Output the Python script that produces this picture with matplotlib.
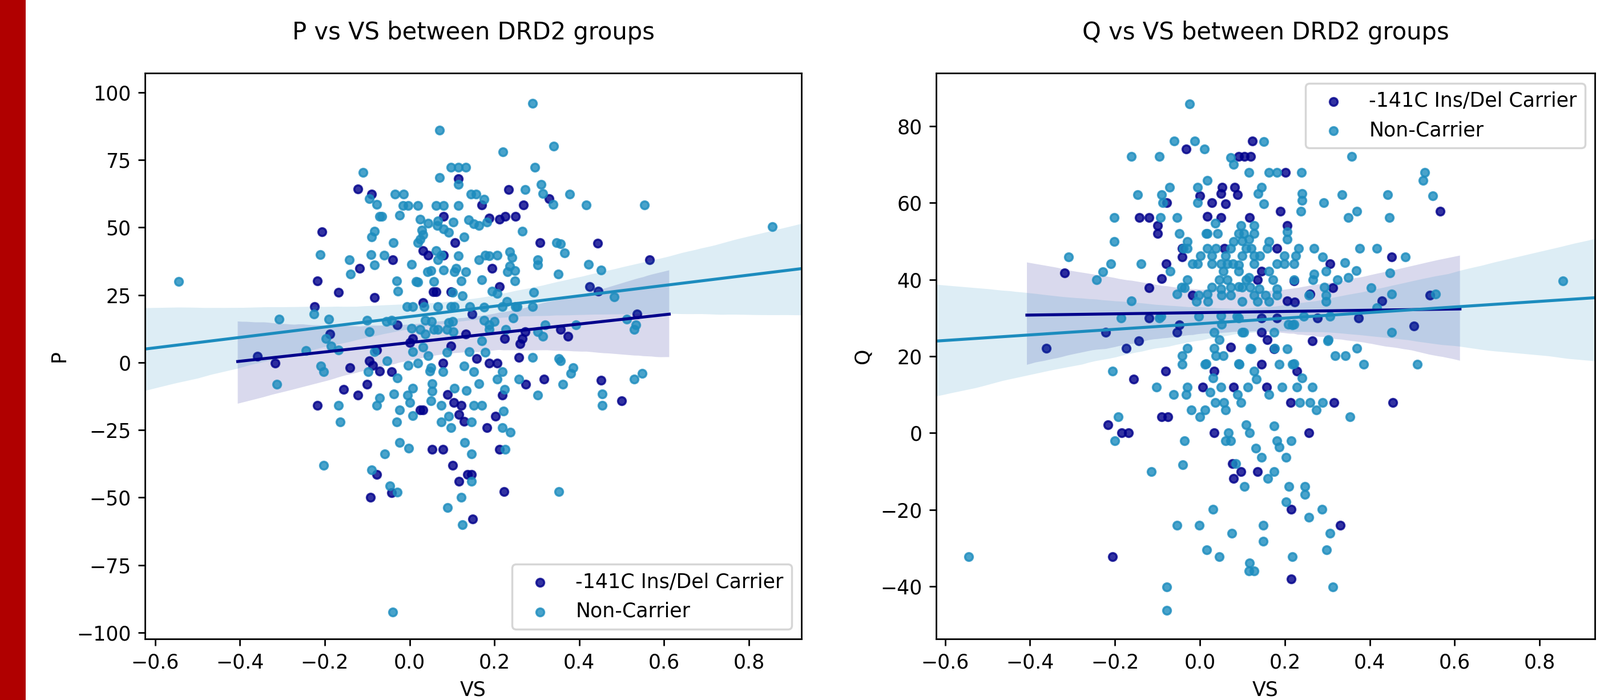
import numpy as np
import matplotlib
matplotlib.use("Agg")
import matplotlib.pyplot as plt
from matplotlib.patches import Rectangle
import seaborn as sns

# (VS, P) pairs
P_CARRIER = [
    (0.115, 68), (-0.122, 64.2), (0.233, 64), (-0.089, 62.3), (0.329, 60.7), (0.269, 58.2),
    (0.17, 58.2), (0.08, 54), (0.188, 53.5), (0.212, 53), (0.225, 54), (0.25, 54),
    (-0.207, 48.3), (0.107, 44.4), (0.308, 44.4), (0.443, 44.2), (-0.04, 38.1), (0.031, 41.4),
    (0.044, 39.8), (0.08, 39.8), (0.566, 38.1), (-0.118, 34.8), (0.194, 34.8), (-0.218, 30.2),
    (-0.167, 26), (-0.083, 24.1), (0.056, 26.2), (0.062, 26.2), (0.097, 26.2), (0.212, 28.1),
    (0.425, 28.1), (0.445, 26.4), (-0.224, 20.6), (0.031, 22.2), (0.147, 18), (0.536, 18),
    (-0.029, 13.9), (0.356, 12.2), (0.374, 9.7), (-0.188, 10.5), (0.133, 10.5), (0.272, 11.4),
    (-0.359, 2.2), (-0.077, 4.7), (0.007, 8.9), (0.224, 8.9), (0.266, 8.9),
    (0.0, 7.4), (0.098, 6.2), (0.26, 7), (0.258, 1.9), (-0.317, -0.2), (-0.095, 0.7),
    (0.079, -0.2), (0.158, 1.5), (0.188, -0.2), (0.206, -0.2), (-0.141, -1.9), (-0.087, -1),
    (-0.071, -3.1), (-0.043, -3.5), (0.452, -6.5), (0.5, -14.1), (-0.1, -8), (-0.156, -9.9),
    (-0.122, -12), (0.274, -8), (0.317, -6.1), (0.218, -12), (0.089, -11.8), (-0.218, -15.8),
    (0.025, -17.5), (0.031, -17.5), (0.104, -14.9), (0.122, -15.8), (0.116, -19.2), (0.128, -21.7),
    (0.202, -20), (0.182, -24.2), (0.053, -32.1), (0.079, -32.1), (0.212, -32.1), (0.101, -38),
    (-0.077, -41.5), (0.137, -41.5), (0.146, -41.5), (0.116, -44), (-0.043, -48.3), (-0.092, -50),
    (0.223, -47.8), (0.149, -58),
]
P_NONCARRIER = [
    (-0.545, 30), (0.29, 96), (0.07, 86), (0.34, 80), (0.22, 78), (0.296, 72.2), (-0.11, 70.3),
    (0.097, 72.2), (0.115, 72.2), (0.133, 72.2), (0.071, 68.4), (0.115, 66), (0.31, 66),
    (-0.095, 60.7), (-0.035, 62.3), (-0.014, 62.3), (0.145, 62.3), (0.157, 62.3), (0.272, 64),
    (0.314, 62.5), (0.377, 62.2), (0.338, 58.6), (0.416, 58.2), (0.554, 58.2), (0.176, 60.3),
    (-0.077, 58.6), (-0.016, 58), (-0.004, 58), (0.02, 58), (0.062, 58), (0.08, 58), (0.115, 58),
    (-0.071, 54), (-0.065, 54), (-0.023, 54.4), (0.025, 53.1), (0.139, 52.7), (0.103, 51.9),
    (0.067, 52.3), (-0.083, 48.6), (-0.089, 46.5), (0.029, 49), (0.031, 47.3), (0.025, 45.6),
    (0.065, 50.6), (0.08, 49.4), (0.092, 48.1), (0.164, 50.6), (0.182, 51.9), (0.128, 46.5),
    (0.266, 48.6), (0.019, 44.4), (-0.038, 44.4), (0.346, 44.4), (0.356, 44), (-0.211, 40),
    (-0.091, 40), (-0.142, 38.1), (0.062, 41.4), (0.067, 38), (0.115, 39.4), (0.164, 38.1),
    (0.188, 39.4), (0.206, 39.8), (0.236, 41), (0.242, 38.9), (0.236, 35.6), (0.248, 33.9),
    (0.302, 38.1), (0.302, 36), (0.366, 40.6), (0.422, 36.4), (0.452, 34.3), (-0.139, 32.7),
    (-0.083, 36), (0.005, 36.4), (0.05, 33.9), (0.08, 34.3), (0.11, 34.8), (0.35, 32.7),
    (-0.031, 30.2), (0.019, 29.7), (0.122, 30.2), (0.17, 30.6), (0.248, 30.2), (-0.027, 26.4),
    (0.194, 26.4), (0.293, 26), (0.482, 24.3), (0.125, 24.7), (0.206, 25.6), (0.23, 22.6),
    (0.254, 20.6), (0.29, 20.6), (-0.226, 18), (-0.006, 20.6), (0.007, 20.6), (0.067, 20.6),
    (0.097, 20.6), (0.176, 20.4), (0.218, 20.6), (-0.307, 16), (-0.191, 16), (0.512, 16),
    (0.534, 13.9), (-0.101, 15.5), (-0.043, 15.5), (0.005, 12.6), (0.037, 15.5), (0.067, 12.2),
    (0.092, 14.7), (0.176, 15.5), (0.188, 13.9), (0.244, 16.4), (0.319, 13.9), (0.392, 13.9),
    (0.53, 12.2), (-0.197, 8.9), (-0.095, 11.4), (0.037, 10.5), (0.103, 11.4), (0.188, 12.2),
    (0.314, 9.7), (0.302, 11.4), (-0.245, 4.3), (-0.167, 4.7), (0.17, 8), (0.855, 50.2),
    (-0.083, 4), (-0.185, 6.2), (0.007, 4), (0.031, 5.7), (0.044, 2.4), (0.14, 4), (0.352, 1.5),
    (0.29, 1.9), (-0.053, 0.7), (-0.004, -1), (0.019, -0.2), (-0.209, -1.4), (-0.203, -3.5),
    (-0.097, -3.5), (-0.029, -5.7), (0.05, -1.9), (0.079, -3.5), (0.128, -1.4), (0.152, -3.5),
    (0.218, -3.5), (0.356, 0.7), (0.386, -1.9), (0.38, -4), (0.548, -4), (0.53, -6.1),
    (-0.313, -8), (0.454, -11.6), (0.454, -15.8), (0.258, -6.1), (0.362, -8), (0.302, -12),
    (0.224, -9.9), (0.206, -6.1), (0.164, -7.8), (0.134, -10.3), (0.053, -7.8), (0.053, -10.7),
    (0.007, -9.5), (-0.005, -12), (-0.071, -13.2), (-0.037, -11.6), (-0.167, -15.8),
    (-0.163, -22.1), (-0.077, -15.8), (-0.023, -17.5), (0.001, -14.9), (0.05, -14.1),
    (0.074, -15.8), (0.152, -15.8), (0.17, -15.8), (0.221, -17.9), (0.074, -22.1), (0.092, -20),
    (0.098, -24.2), (0.146, -22.1), (-0.031, -22.1), (0.218, -24.2), (0.238, -25.9),
    (-0.023, -29.7), (-0.002, -31.8), (0.13, -29.7), (0.146, -33.9), (0.226, -32.1),
    (-0.059, -33.9), (-0.203, -38), (-0.089, -39.8), (0.146, -44), (-0.047, -45.7),
    (-0.029, -48.1), (0.352, -47.8), (0.122, -50), (0.089, -53.7), (0.125, -60.1), (-0.04, -92.3),
    # dense centre of the cloud
    (0.044, 51.5), (0.151, 51.3), (-0.06, 39.8), (0.075, 39.8), (0.178, 39.8), (0.043, 33.5),
    (0.106, 33.5), (0.133, 33.5), (0.231, 33.5), (0.016, 29.9), (0.057, 29.9), (0.101, 26),
    (0.034, 20.6), (0.106, 20.6), (0.142, 20.6), (0.25, 20.6), (-0.055, 15.2), (0.052, 15.2),
    (0.101, 15.2), (0.2, 15.2), (0.025, 12.3), (0.057, 12.3), (0.088, 12.3), (0.227, 12.3),
    (0.088, 3.8), (0.178, 3.8), (0.048, -3.1), (0.106, -9.5), (0.008, -19.6),
]

# (VS, Q) pairs
Q_CARRIER = [
    (-0.033, 74), (0.124, 76.2), (0.091, 72.1), (0.105, 72.1), (0.12, 72.1), (0.201, 67.9),
    (0.052, 64.1), (0.082, 64.1), (0.0, 61.8), (0.049, 62.4), (0.088, 62.1), (-0.078, 60),
    (0.028, 60), (0.061, 59.7), (0.566, 57.8), (-0.142, 56.2), (-0.12, 56.2), (0.018, 56.5),
    (0.049, 56.2), (0.117, 56.2), (0.19, 57.9), (0.205, 54.1), (-0.099, 54.1), (-0.1, 52.1),
    (-0.042, 48.2), (0.058, 48.2), (0.181, 48.2), (-0.042, 45.9), (0.451, 45.9), (-0.318, 41.8),
    (-0.08, 44.1), (0.307, 44.1), (-0.09, 40.3), (0.135, 40), (0.221, 39.7), (-0.12, 37.9),
    (0.313, 37.9), (-0.018, 35.9), (0.259, 36.2), (0.542, 35.9), (0.205, 34.4), (0.223, 34.1),
    (0.428, 34.4), (-0.12, 30), (0.145, 30), (0.181, 30), (0.277, 30), (0.374, 30),
    (-0.048, 28.2), (0.504, 27.9), (-0.222, 26.2), (-0.054, 26.2), (0.145, 26.2), (-0.144, 24.1),
    (0.265, 24.1), (0.073, 22.4), (-0.174, 22.1), (-0.361, 22.1), (0.175, 22),
    (0.145, 17.9), (-0.081, 16.1), (0.033, 16.1), (0.229, 16.1), (-0.156, 14), (0.006, 11.9),
    (0.079, 11.9), (0.157, 11.9), (0.213, 8), (0.316, 8), (0.454, 8), (-0.09, 4.2),
    (-0.075, 4.2), (-0.216, 2.1), (-0.184, 0), (-0.168, 0), (0.033, 0), (0.256, 0),
    (0.076, -8), (0.097, -10.1), (0.135, -10.1), (0.079, -11.9), (0.215, -19.9), (0.331, -24.1),
    (-0.206, -32.3), (0.215, -38.1), (0.145, 42.2), (0.159, 24.3),
]
Q_NONCARRIER = [
    (-0.024, 85.8), (-0.06, 76.2), (-0.012, 76.2), (0.01, 74.1), (0.151, 76), (-0.162, 72.1),
    (-0.096, 72.1), (0.073, 71.8), (0.079, 70), (0.115, 67.9), (0.163, 67.9), (0.181, 67.9),
    (0.239, 67.9), (0.358, 72.1), (0.53, 67.9), (0.526, 65.9), (0.018, 65.9), (-0.072, 64.1),
    (-0.006, 64.1), (0.145, 64.1), (-0.146, 62.1), (-0.09, 62.1), (0.137, 62.4), (0.241, 62.4),
    (0.241, 60.6), (0.335, 62.1), (0.442, 62.1), (0.548, 61.9), (-0.087, 60), (0.291, 60),
    (-0.006, 60), (0.151, 59.7), (0.37, 57.9), (0.349, 56.2), (-0.202, 56.2), (-0.093, 56.2),
    (-0.054, 56.2), (0.036, 54.7), (0.238, 57.9), (0.446, 56.2), (-0.048, 52.1), (0.097, 54.1),
    (0.127, 54.1), (0.103, 52.1), (0.205, 52.4), (-0.202, 50), (-0.03, 50), (0.018, 52.1),
    (0.079, 50), (0.115, 50.6), (0.163, 50), (0.205, 50.6), (-0.03, 48.2), (0.018, 48.2),
    (0.121, 48.2), (0.233, 48.2), (0.269, 48.2), (0.376, 48.2), (0.417, 48.2), (0.484, 45.9),
    (0.447, 41.8), (0.289, 45.9), (-0.309, 45.9), (-0.21, 44.1), (-0.228, 42), (-0.244, 40),
    (-0.138, 44.1), (-0.006, 44.1), (0.049, 44.1), (0.091, 43.8), (0.199, 44.1), (0.341, 44.4),
    (0.368, 42.4), (0.349, 40.6), (0.115, 40.6), (0.269, 41.5), (0.855, 39.7), (-0.036, 37.9),
    (0.049, 37.6), (0.091, 38.2), (0.139, 37.6), (0.181, 37.6), (0.403, 37.9), (-0.054, 36.2),
    (0.018, 36.2), (0.451, 36.2), (0.555, 36.2), (-0.162, 34.4), (0.416, 32.6), (-0.186, 30),
    (-0.096, 30), (0.049, 30.6), (0.091, 30), (0.217, 28.2), (0.451, 26.2), (0.103, 26.2),
    (0.175, 26.2), (0.301, 24.1), (-0.03, 22.1), (0.37, 22.1),
    (0.121, 22), (0.205, 22), (0.319, 20.1), (0.343, 20.1), (-0.042, 20.2), (0.055, 20.1),
    (0.037, 20.1), (-0.042, 17.9), (0.012, 17.9), (0.093, 17.9), (0.187, 17.9), (0.217, 17.9),
    (0.386, 17.9), (0.512, 17.9), (-0.206, 16.1), (0.127, 16.1), (0.031, 14.3), (0.133, 14),
    (0.241, 14.3), (-0.102, 11.9), (-0.03, 11.9), (0.024, 10.7), (0.049, 11.9), (0.113, 11.9),
    (0.193, 11.9), (0.229, 11.9), (0.265, 11.9), (-0.062, 10.1), (-0.032, 10.1), (0.088, 10.1),
    (0.163, 10.1), (0.036, 8), (0.057, 8), (0.097, 8), (0.235, 8), (0.259, 8), (0.289, 8),
    (-0.02, 6), (0.012, 6), (0.061, 6), (0.274, 6), (0.0, 4.2), (0.353, 4.2), (-0.192, 4.2),
    (-0.201, -2.1), (0.067, 0), (0.109, 2.1), (0.117, 0), (0.175, 1.8), (-0.036, -2.1),
    (0.061, -2.1), (0.073, -2.1), (0.181, -2.1), (0.187, -3.6), (0.215, -2.1), (0.131, -3.9),
    (0.145, -6.3), (0.203, -6.3), (-0.04, -8.3), (0.085, -8), (-0.114, -10.1), (0.175, -10.1),
    (0.16, -11.9), (0.105, -14), (0.209, -14), (0.247, -14), (0.247, -16.1), (0.203, -17.9),
    (0.031, -19.9), (0.288, -19.9), (0.256, -22), (-0.054, -24.1), (-0.002, -24.1),
    (0.149, -24.1), (0.075, -26.2), (0.307, -26.2), (0.149, -28.3), (0.016, -30.4),
    (0.298, -30.4), (-0.544, -32.3), (0.046, -32.3), (0.217, -32.3), (0.117, -33.9),
    (0.115, -36), (0.127, -36), (-0.078, -40.2), (0.313, -40.2), (-0.078, -46.3),
    # dense centre of the cloud
    (0.015, 52.1), (0.042, 52.1), (0.091, 52.1), (0.127, 52.1), (0.1, 50.1), (-0.039, 48.1),
    (0.037, 48.1), (0.073, 48.1), (0.109, 48.1), (0.158, 48.1), (0.001, 46.2), (0.028, 46.2),
    (0.06, 46.2), (0.1, 46.2), (0.127, 46.2), (0.141, 46.2), (0.199, 46.2), (0.226, 46.2),
    (-0.017, 44.2), (0.028, 44.2), (0.064, 44.2), (0.078, 44.2), (0.127, 44.2), (0.181, 44.2),
    (0.221, 44.2), (-0.07, 42.2), (0.055, 42.2), (0.091, 42.2), (0.163, 42.2), (0.297, 42.2),
    (-0.03, 40), (0.046, 40), (0.064, 40), (0.109, 40), (0.172, 40), (0.221, 40), (0.266, 40),
    (0.324, 40), (-0.043, 38), (0.028, 38), (0.073, 38), (0.1, 38), (0.118, 38), (0.293, 38),
    (-0.003, 36), (0.051, 36), (0.073, 36), (0.127, 36), (0.154, 36), (0.181, 36), (0.257, 36),
    (0.297, 36), (-0.008, 34.3), (0.019, 34.3), (0.1, 34.3), (0.136, 34.3), (0.163, 34.3),
    (0.297, 34.3), (-0.092, 30.5), (-0.003, 30.5), (0.087, 30.5), (0.244, 30.5), (0.306, 30.5),
    (0.051, 28.3), (0.208, 28.3), (0.221, 28.3), (0.033, 26.3), (0.1, 26.3), (0.046, 24.3),
    (0.302, 24.3), (0.033, 22.1), (0.118, 22.1), (0.176, 22.1), (0.015, 18.1), (0.091, 18.1),
    (0.221, 18.1),
]

GROUP_LABELS = ["-141C Ins/Del Carrier", "Non-Carrier"]
CARRIER_COLOR = "darkblue"
NONCARRIER_COLOR = "#1c8cbe"

fig = plt.figure(figsize=(2803 / 250, 1226 / 250), dpi=250)
# red slide edge on the left
fig.add_artist(Rectangle((0, 0), 45 / 2803, 1, transform=fig.transFigure,
                         facecolor="#b00000", edgecolor="none"))

ax_p = fig.add_axes([0.0906, 0.0873, 0.4103, 0.8079])
ax_q = fig.add_axes([0.5851, 0.0873, 0.4117, 0.8079])


def draw_panel(ax, carrier, noncarrier, name, xlim, ylim, legend_loc):
    cx, cy = zip(*carrier)
    nx, ny = zip(*noncarrier)
    sc = dict(s=16)
    lk = dict(linewidth=1.5)
    # carriers first: their line spans the x-range seen at that point
    sns.regplot(x=np.array(cx), y=np.array(cy), ax=ax, color=CARRIER_COLOR,
                label=GROUP_LABELS[0], truncate=False, seed=0,
                scatter_kws=sc, line_kws=lk)
    ax.set_xlim(*xlim)
    sns.regplot(x=np.array(nx), y=np.array(ny), ax=ax, color=NONCARRIER_COLOR,
                label=GROUP_LABELS[1], truncate=False, seed=0,
                scatter_kws=sc, line_kws=lk)
    ax.set_xlim(*xlim)
    ax.set_ylim(*ylim)
    ax.set_xlabel("VS")
    ax.set_ylabel(name)
    ax.set_title(f"{name} vs VS between DRD2 groups", pad=17)
    ax.legend(loc=legend_loc)


draw_panel(ax_p, P_CARRIER, P_NONCARRIER, "P", (-0.624, 0.924), (-102.3, 107.0), "lower right")
draw_panel(ax_q, Q_CARRIER, Q_NONCARRIER, "Q", (-0.621, 0.930), (-53.7, 93.8), "upper right")
ax_p.set_yticks([-100, -75, -50, -25, 0, 25, 50, 75, 100])

fig.savefig("out.png", dpi=250)
